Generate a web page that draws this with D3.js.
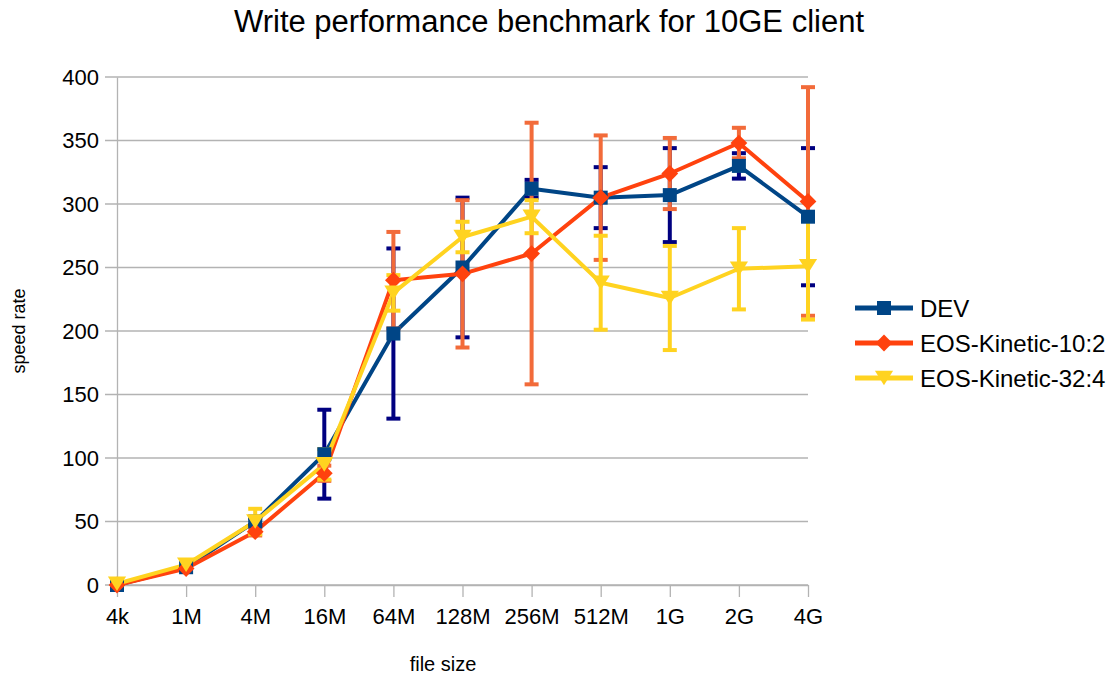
<!DOCTYPE html>
<html>
<head>
<meta charset="utf-8">
<script src="https://cdn.jsdelivr.net/npm/d3@7"></script>
<style>
  body { margin: 0; background: #fff; }
  text { font-family: "Liberation Sans", Arial, sans-serif; fill: #000; }
</style>
</head>
<body>
<div id="chart"></div>
<script>
// data
var sizes = ["4k", "1M", "4M", "16M", "64M", "128M", "256M", "512M", "1G", "2G", "4G"];
var yTicks = [0, 50, 100, 150, 200, 250, 300, 350, 400];

var devVals = [0, 14, 50, 103, 198, 250, 312, 305, 307, 330, 290];
var devErr  = [0, 0, 3, 35, 67, 55, 7, 24, 37, 10, 54];

var k10Vals = [0, 13, 42, 88, 240, 245, 261, 305, 324, 348, 302];
var k10Err  = [0, 0, 3, 6, 38, 58, 103, 49, 28, 12, 90];

var k32Vals = [1, 16, 50, 95, 230, 274, 290, 238, 226, 249, 251];
var k32Err  = [0, 0, 10, 12, 14, 12, 13, 37, 41, 32, 42];

var seriesNames = ["DEV", "EOS-Kinetic-10:2", "EOS-Kinetic-32:4"];

var series = [
  {name: seriesNames[0], vals: devVals, err: devErr, color: "#004586", errColor: "#000080", marker: "square"},
  {name: seriesNames[1], vals: k10Vals, err: k10Err, color: "#ff420e", errColor: "#f26b3a", marker: "diamond"},
  {name: seriesNames[2], vals: k32Vals, err: k32Err, color: "#ffd320", errColor: "#ffd320", marker: "tri"}
];

var W = 1113, H = 677;
var margin = {top: 77, left: 117, right: 305, bottom: 92};
var width = W - margin.left - margin.right,
    height = H - margin.top - margin.bottom;

var svg = d3.select("#chart").append("svg")
  .attr("width", W).attr("height", H);

var g = svg.append("g")
  .attr("transform", "translate(" + margin.left + "," + margin.top + ")");

var x = d3.scalePoint().domain(sizes).range([0, width]);
var y = d3.scaleLinear().domain([0, 400]).range([height, 0]);

// horizontal grid
g.append("g")
  .selectAll("line")
  .data(yTicks)
  .enter().append("line")
    .attr("x1", -12).attr("x2", width)
    .attr("y1", function(d) { return y(d); })
    .attr("y2", function(d) { return y(d); })
    .attr("stroke", "#b3b3b3").attr("stroke-width", 1.3);

// y axis
var yAxis = g.append("g")
  .call(d3.axisLeft(y).tickValues(yTicks).tickSize(0).tickPadding(18));
yAxis.select(".domain").attr("stroke", "#b3b3b3").attr("stroke-width", 1.3);
yAxis.selectAll("text").style("font-size", "22px").style("font-family", "Liberation Sans, Arial, sans-serif");

// x axis
var xAxis = g.append("g")
  .attr("transform", "translate(0," + height + ")")
  .call(d3.axisBottom(x).tickSize(12).tickSizeOuter(0).tickPadding(11));
xAxis.select(".domain").attr("stroke", "#b3b3b3").attr("stroke-width", 1.3);
xAxis.selectAll(".tick line").attr("stroke", "#b3b3b3").attr("stroke-width", 1.3);
xAxis.selectAll("text").style("font-size", "22px").style("font-family", "Liberation Sans, Arial, sans-serif");

var line = d3.line()
  .x(function(d, i) { return x(sizes[i]); })
  .y(function(d) { return y(d); });

// lines
series.forEach(function(s) {
  g.append("path")
    .datum(s.vals)
    .attr("fill", "none")
    .attr("stroke", s.color)
    .attr("stroke-width", 4)
    .attr("stroke-linejoin", "round")
    .attr("d", line);
});

// error bars
series.forEach(function(s) {
  var eb = g.append("g").attr("stroke", s.errColor);
  s.vals.forEach(function(v, i) {
    var e = s.err[i];
    if (!e) return;
    var cx = x(sizes[i]);
    eb.append("line")
      .attr("x1", cx).attr("x2", cx)
      .attr("y1", y(v + e)).attr("y2", y(v - e))
      .attr("stroke-width", 4);
    [v + e, v - e].forEach(function(c) {
      eb.append("line")
        .attr("x1", cx - 7).attr("x2", cx + 7)
        .attr("y1", y(c)).attr("y2", y(c))
        .attr("stroke-width", 4);
    });
  });
});

// markers
function drawMarker(sel, type, cx, cy, color, sz) {
  if (type == "square") {
    sel.append("rect")
      .attr("x", cx - sz / 2).attr("y", cy - sz / 2)
      .attr("width", sz).attr("height", sz)
      .attr("fill", color);
  } else if (type == "diamond") {
    var r = sz * 0.6;
    sel.append("path")
      .attr("d", "M" + cx + "," + (cy - r) + "L" + (cx + r) + "," + cy + "L" + cx + "," + (cy + r) + "L" + (cx - r) + "," + cy + "Z")
      .attr("fill", color);
  } else {
    var r2 = sz * 0.65;
    sel.append("path")
      .attr("d", "M" + (cx - r2) + "," + (cy - r2 * 0.8) + "L" + (cx + r2) + "," + (cy - r2 * 0.8) + "L" + cx + "," + (cy + r2 * 0.8) + "Z")
      .attr("fill", color);
  }
}

series.forEach(function(s) {
  var mg = g.append("g");
  s.vals.forEach(function(v, i) {
    drawMarker(mg, s.marker, x(sizes[i]), y(v), s.color, 14);
  });
});

// title
svg.append("text")
  .attr("x", 549).attr("y", 32)
  .attr("text-anchor", "middle")
  .style("font-size", "31px")
  .text("Write performance benchmark for 10GE client");

// axis titles
svg.append("text")
  .attr("transform", "translate(25,331) rotate(-90)")
  .attr("text-anchor", "middle")
  .style("font-size", "18px")
  .text("speed rate");

svg.append("text")
  .attr("x", 443).attr("y", 671)
  .attr("text-anchor", "middle")
  .style("font-size", "20px")
  .text("file size");

// legend
var legend = svg.append("g").attr("transform", "translate(855,308)");
series.forEach(function(s, i) {
  var row = legend.append("g").attr("transform", "translate(0," + (i * 35) + ")");
  row.append("line")
    .attr("x1", 0).attr("x2", 58)
    .attr("y1", 0).attr("y2", 0)
    .attr("stroke", s.color).attr("stroke-width", 5);
  drawMarker(row, s.marker, 29, 0, s.color, 14);
  row.append("text")
    .attr("x", 65).attr("y", 8.5)
    .style("font-size", "24px")
    .text(s.name);
});
</script>
</body>
</html>
